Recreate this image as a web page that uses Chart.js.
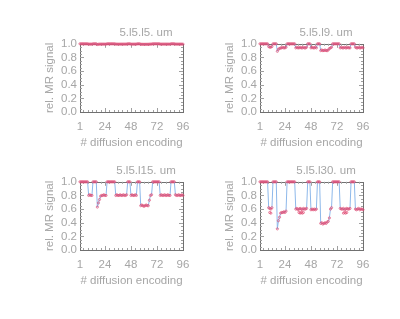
<!DOCTYPE html>
<html>
<head>
<meta charset="utf-8">
<script src="https://cdn.jsdelivr.net/npm/chart.js@4/dist/chart.umd.min.js"></script>
<style>
  html, body { margin: 0; padding: 0; background: #ffffff; overflow: hidden; }
  body { width: 400px; height: 319px; position: relative; }
  canvas { position: absolute; background: transparent; }
</style>
</head>
<body>
<canvas id="c1" width="249" height="160" style="left:0px;top:0px"></canvas>
<canvas id="c2" width="249" height="160" style="left:180px;top:0px"></canvas>
<canvas id="c3" width="249" height="160" style="left:0px;top:138px"></canvas>
<canvas id="c4" width="249" height="160" style="left:180px;top:138px"></canvas>
<script>
// ---------------- data ----------------
const titles = ["5.l5.l5. um", "5.l5.l9. um", "5.l5.l15. um", "5.l5.l30. um"];
const xTickLabels = [1, 24, 48, 72, 96];
const yTickLabels = [0.0, 0.2, 0.4, 0.6, 0.8, 1.0];
const encodings = Array.from({length: 96}, (_, i) => i + 1);

const sig5 = [
  1,1,1,1,1,1,1,1, .995,.995,.995,.995, 1,1,1,1, .99, .993,.995,
  .995,.995,.995,.995,.995,.995, 1,1,1,1,1,1,1,1,
  .995,.995,.995,.995,.995,.995,.995,.995,.995,.995,.995, 1,1,1,
  .995,.995,.995,.995,.995,.995, 1,1,1,
  .993,.993,.993,.993,.993,.993,.993,.993, .994, .995,.995,
  1,1,1,1,1,1,1, .995,.995,.995,.995,.995,.995,.995,.995,.995,.995,
  1,1,1,1, .995,.995,.995,.995,.995,.995,.995,.995
];
const sig9 = [
  1,1,1,1,1,1,1,1, .96,.95,.95,.96, 1,1,1,1, .89, .92,.93,
  .94,.94,.95,.94,.94,.95, 1,1,1,1,1,1,1,1,
  .94,.95,.94,.94,.95,.94,.94,.95,.94,.94,.95, 1,1,1,
  .94,.95,.94,.94,.95,.94, 1,1,1,
  .90,.91,.90,.90,.91,.90,.90,.91, .93, .94,.95,
  1,1,1,1,1,1,1, .94,.95,.94,.94,.95,.94,.94,.95,.94,.94,
  1,1,1,1, .95,.94,.94,.95,.94,.94,.95,.94
];
const sig15 = [
  1,1,1,1,1,1,1,1, .80,.81,.80,.80, 1,1,1,1, .63, .69,.74,
  .79,.80,.80,.81,.80,.80, 1,1,1,1,1,1,1,1,
  .80,.81,.80,.80,.81,.80,.80,.81,.80,.80,.81, 1,1,1,
  .80,.81,.80,.80,.81,.80, 1,1,1,
  .65,.66,.65,.64,.65,.66,.65,.65, .73, .80,.81,
  1,1,1,1,1,1,1, .80,.81,.80,.80,.81,.80,.80,.81,.80,.80,
  1,1,1,1, .81,.80,.80,.81,.80,.80,.81,.80
];
const sig30 = [
  1,1,1,1,1,1,1,1, .62,.61,.60,.62, 1,1,1,1, .31, .43,.48,
  .54,.55,.55,.56,.55,.57, 1,1,1,1,1,1,1,1,
  .60,.61,.59,.60,.61,.60,.59,.61,.60,.60,.61, 1,1,1,
  .59,.60,.59,.60,.59,.60, 1,1,1,
  .39,.40,.38,.39,.40,.39,.41,.42, .47, .60,.62,
  1,1,1,1,1,1,1, .61,.60,.60,.61,.59,.60,.61,.60,.60,.61,
  1,1,1,1, .60,.59,.60,.61,.59,.60,.60,.59
];
// extra (lower) marker row seen in the 30 um panel
const alt30Idx = [10, 11, 37, 38, 39, 40, 41, 78, 79, 80, 81];
const alt30Val = [.55, .54, .55, .54, .55, .54, .55, .54, .55, .54, .55];

// ---------------- style ----------------
const TXT = '#a6a6a6';
const BOX = '#707070';
const BLUE = '#8db8ea';
const RED = '#e04a72';
const FONT = {family: "'Liberation Sans', Arial, sans-serif", size: 11.5, weight: 'normal'};

const boxPlugin = {
  id: 'box',
  beforeDatasetsDraw(chart) {
    const {ctx, chartArea: a, scales} = chart;
    const xs = scales.x, ys = scales.y;
    ctx.save();
    ctx.strokeStyle = BOX;
    ctx.lineWidth = 1;
    ctx.strokeRect(Math.round(a.left) + 0.5, Math.round(a.top) + 0.5,
                   Math.round(a.right - a.left), Math.round(a.bottom - a.top));
    ctx.strokeStyle = '#a0a0a0';
    ctx.beginPath();
    for (let v = 4; v < 96; v += 4) {
      const px = Math.round(xs.getPixelForValue(v)) + 0.5;
      const len = xTickLabels.includes(v) ? 4 : 2;
      ctx.moveTo(px, a.bottom); ctx.lineTo(px, a.bottom - len);
      ctx.moveTo(px, a.top); ctx.lineTo(px, a.top + len);
    }
    for (let k = 1; k < 20; k++) {
      const v = k * 0.05;
      const py = Math.round(ys.getPixelForValue(v)) + 0.5;
      const len = (k % 4 === 0) ? 4 : 2;
      ctx.moveTo(a.left, py); ctx.lineTo(a.left + len, py);
      ctx.moveTo(a.right, py); ctx.lineTo(a.right - len, py);
    }
    ctx.stroke();
    ctx.restore();
  }
};

function pts(vals) { return vals.map((v, i) => ({x: encodings[i], y: v})); }

function makeChart(id, title, vals, extraIdx, extraVal) {
  const mk = {showLine: false, pointStyle: 'circle', pointRadius: 1.1,
    pointBorderWidth: 0.7, pointBorderColor: RED, pointBackgroundColor: 'rgba(0,0,0,0)', order: 1};
  const datasets = [
    {data: pts(vals), borderColor: BLUE, borderWidth: 1, pointRadius: 0, tension: 0, order: 2},
    Object.assign({data: pts(vals)}, mk)
  ];
  if (extraIdx) {
    datasets.push(Object.assign({data: extraIdx.map((n, i) => ({x: n, y: extraVal[i]}))}, mk));
  }
  return new Chart(document.getElementById(id), {
    type: 'line',
    data: {datasets},
    options: {
      responsive: false,
      animation: false,
      clip: false,
      layout: {padding: {left: 43, top: 26, right: 0, bottom: 10}},
      plugins: {
        legend: {display: false},
        tooltip: {enabled: false},
        title: {display: true, text: title, color: TXT, font: FONT, align: 'center', padding: {top: 0, bottom: 4}}
      },
      scales: {
        x: {
          type: 'linear', min: 1, max: 96,
          afterBuildTicks: s => { s.ticks = xTickLabels.map(v => ({value: v})); },
          afterFit: s => { s.height = 38; },
          grid: {display: false, drawTicks: false},
          border: {display: false},
          ticks: {color: TXT, font: FONT, padding: 8, maxRotation: 0, autoSkip: false},
          title: {display: true, text: '# diffusion encoding', color: TXT, font: FONT, padding: 0}
        },
        y: {
          type: 'linear', min: 0, max: 1,
          afterBuildTicks: s => { s.ticks = yTickLabels.map(v => ({value: v})); },
          afterFit: s => { s.width = 37; },
          grid: {display: false, drawTicks: false},
          border: {display: false},
          ticks: {color: TXT, font: FONT, padding: 3, autoSkip: false, callback: v => Number(v).toFixed(1)},
          title: {display: true, text: 'rel. MR signal', color: TXT, font: FONT, padding: 0}
        },
        y2: {
          type: 'linear', position: 'right', display: true,
          afterFit: s => { s.width = 66; },
          grid: {display: false, drawTicks: false},
          border: {display: false},
          ticks: {display: false}
        }
      }
    },
    plugins: [boxPlugin]
  });
}

makeChart('c1', titles[0], sig5);
makeChart('c2', titles[1], sig9);
makeChart('c3', titles[2], sig15);
makeChart('c4', titles[3], sig30, alt30Idx, alt30Val);
</script>
</body>
</html>
